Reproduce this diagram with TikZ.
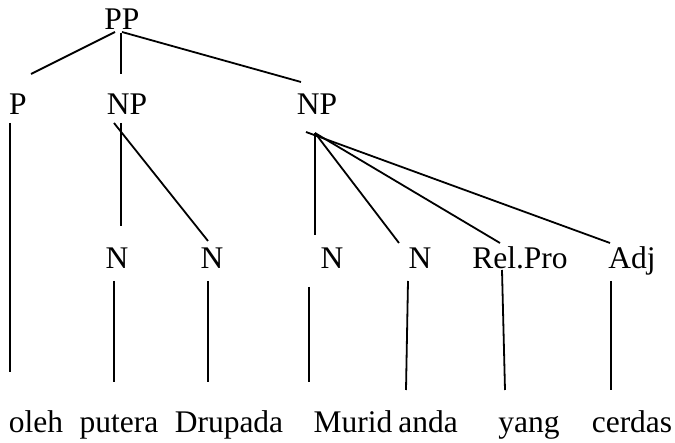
\documentclass[tikz,border=0pt]{standalone}
\usepackage{fontspec}
\setmainfont{Liberation Serif}
\begin{document}
\begin{tikzpicture}[x=1pt,y=-1pt,
  lbl/.style={anchor=base,inner sep=0pt,font=\fontsize{31.5}{38}\selectfont},
  edge/.style={line width=1.8pt,line cap=butt}]
\useasboundingbox (0,0) rectangle (675,443);
% labels
\node[lbl] (PP) at (122,30) {PP};
\node[lbl] (P) at (18,115) {P};
\node[lbl] (NPa) at (127,115) {NP};
\node[lbl] (NPb) at (317,115) {NP};
\node[lbl] (Na) at (117,269) {N};
\node[lbl] (Nb) at (212,269) {N};
\node[lbl] (Nc) at (332,269) {N};
\node[lbl] (Nd) at (420,269) {N};
\node[lbl] (Rel) at (520,269) {Rel.Pro};
\node[lbl] (Adj) at (632,269) {Adj};
\node[lbl] (w1) at (36,433) {oleh};
\node[lbl] (w2) at (119,433) {putera};
\node[lbl] (w3) at (229,433) {Drupada};
\node[lbl] (w4) at (353,433) {Murid};
\node[lbl] (w5) at (428,433) {anda};
\node[lbl] (w6) at (529,433) {yang};
\node[lbl] (w7) at (632,433) {cerdas};
% connector end points
\coordinate (PPl) at (115,32);
\coordinate (PPm) at (121,33);
\coordinate (PPr) at (122,32);
\coordinate (Pt) at (31,74);
\coordinate (NPat) at (121,74);
\coordinate (NPbt) at (301,82);
\coordinate (Pb) at (10,123);
\coordinate (oleht) at (10,372);
\coordinate (NPav) at (121,123);
\coordinate (NPad) at (114,123);
\coordinate (Nat) at (121,226);
\coordinate (Nbt) at (208,241);
\coordinate (NPbv) at (315,133);
\coordinate (NPbs) at (306,132);
\coordinate (Nct) at (315,235);
\coordinate (Ndt) at (399,243);
\coordinate (Relt) at (500,243);
\coordinate (Adjt) at (610,243);
\coordinate (Nab) at (114,281);
\coordinate (w2t) at (114,382);
\coordinate (Nbb) at (208,281);
\coordinate (w3t) at (208,382);
\coordinate (Ncb) at (309,287);
\coordinate (w4t) at (309,382);
\coordinate (Ndb) at (408,281);
\coordinate (w5t) at (406,390);
\coordinate (Relb) at (502,270);
\coordinate (w6t) at (505,390);
\coordinate (Adjb) at (611,281);
\coordinate (w7t) at (611,390);
% connectors
\draw[edge] (PPl) -- (Pt);
\draw[edge] (PPm) -- (NPat);
\draw[edge] (PPr) -- (NPbt);
\draw[edge] (Pb) -- (oleht);
\draw[edge] (NPav) -- (Nat);
\draw[edge] (NPad) -- (Nbt);
\draw[edge] (NPbv) -- (Nct);
\draw[edge] (NPbv) -- (Ndt);
\draw[edge] (NPbv) -- (Relt);
\draw[edge] (NPbs) -- (Adjt);
\draw[edge] (Nab) -- (w2t);
\draw[edge] (Nbb) -- (w3t);
\draw[edge] (Ncb) -- (w4t);
\draw[edge] (Ndb) -- (w5t);
\draw[edge] (Relb) -- (w6t);
\draw[edge] (Adjb) -- (w7t);
\end{tikzpicture}
\end{document}
